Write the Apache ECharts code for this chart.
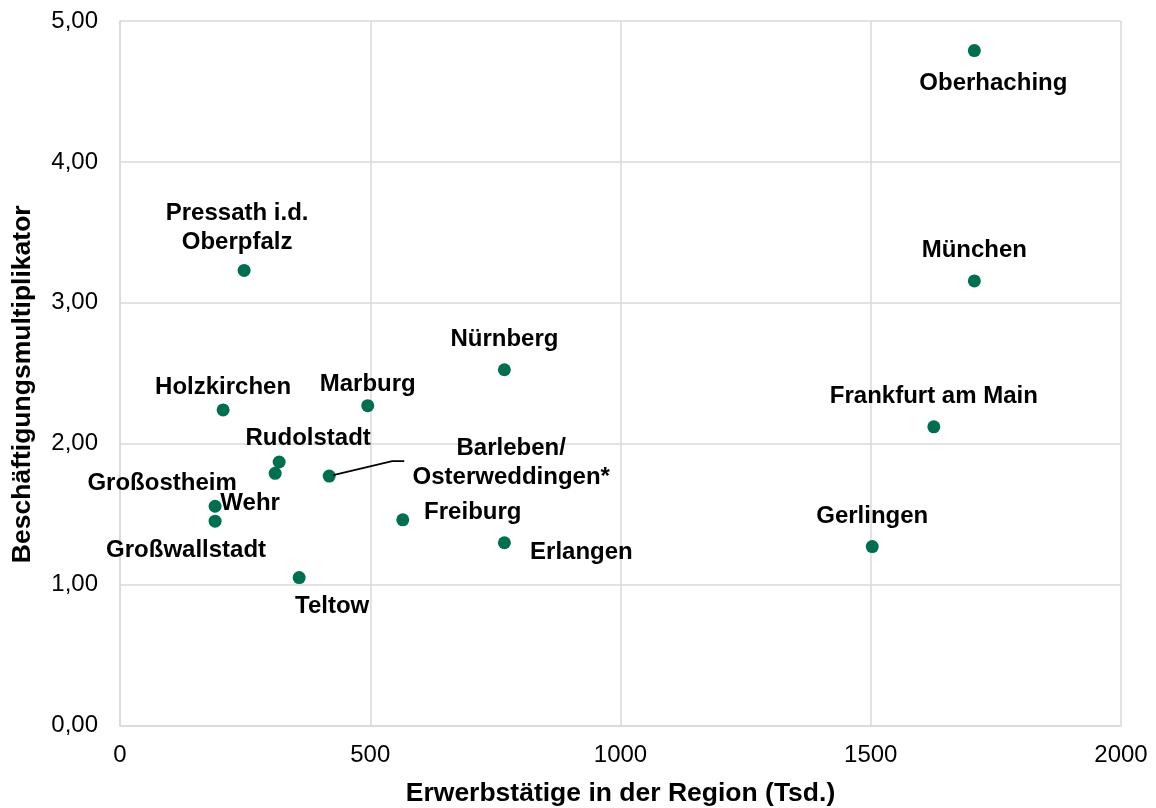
<!DOCTYPE html>
<html><head><meta charset="utf-8">
<script src="https://cdn.jsdelivr.net/npm/echarts@6/dist/echarts.min.js"></script>
<style>html,body{margin:0;padding:0;background:#fff}#c{width:1156px;height:808px}</style>
</head><body><div id="c"></div>
<script>
const regions = ['Oberhaching','München','Frankfurt am Main','Gerlingen','Nürnberg','Erlangen','Freiburg','Barleben/\nOsterweddingen*','Marburg','Rudolstadt','Wehr','Holzkirchen','Pressath i.d.\nOberpfalz','Großostheim','Großwallstadt','Teltow'];
const employed = [1707, 1707, 1626, 1503, 768, 768, 565, 418, 495, 318, 310, 206, 248, 190, 190, 358];
const multiplier = [4.79, 3.155, 2.12, 1.27, 2.525, 1.297, 1.46, 1.77, 2.27, 1.87, 1.79, 2.24, 3.23, 1.556, 1.45, 1.05];
const xTicks = {min: 0, max: 2000, step: 500};
const yTicks = {min: 0, max: 5, step: 1};

// label placement (pixels, relative to point centre)
const labelOffsets = {
  'Oberhaching': [19, 33], 'München': [0, -31], 'Frankfurt am Main': [0, -30], 'Gerlingen': [0, -30],
  'Nürnberg': [0, -30], 'Erlangen': [77, 10], 'Freiburg': [70, -7], 'Barleben/\nOsterweddingen*': [182, -13],
  'Marburg': [0, -21], 'Rudolstadt': [29, -24], 'Wehr': [-25, 30], 'Holzkirchen': [0, -23],
  'Pressath i.d.\nOberpfalz': [-7, -43], 'Großostheim': [-53, -23], 'Großwallstadt': [-29, 29], 'Teltow': [33, 29]
};
const leaderFor = 'Barleben/\nOsterweddingen*';

const data = regions.map((r, i) => ({name: r, value: [employed[i], multiplier[i]]}));

const chart = echarts.init(document.getElementById('c'));
const FONT = '"Liberation Sans", Arial, sans-serif';
chart.setOption({
  animation: false,
  grid: {left: 120, right: 35, top: 21, bottom: 82.5, containLabel: false, outerBoundsMode: 'none'},
  xAxis: {
    type: 'value', min: xTicks.min, max: xTicks.max, interval: xTicks.step,
    name: 'Erwerbstätige in der Region (Tsd.)', nameLocation: 'middle', nameGap: 55,
    nameTextStyle: {fontFamily: FONT, fontSize: 26.5, fontWeight: 'bold', color: '#000'},
    axisLine: {show: true, lineStyle: {color: '#d9d9d9', width: 1.5}},
    axisTick: {show: false},
    axisLabel: {fontFamily: FONT, fontSize: 24, color: '#000', margin: 18, formatter: v => String(v)},
    splitLine: {show: true, lineStyle: {color: '#d9d9d9', width: 1.5}}
  },
  yAxis: {
    type: 'value', min: yTicks.min, max: yTicks.max, interval: yTicks.step,
    name: 'Beschäftigungsmultiplikator', nameLocation: 'middle', nameGap: 84,
    nameTextStyle: {fontFamily: FONT, fontSize: 26.5, fontWeight: 'bold', color: '#000', padding: [0, 22, 0, 0]},
    axisLine: {show: true, lineStyle: {color: '#d9d9d9', width: 1.5}},
    axisTick: {show: false},
    axisLabel: {fontFamily: FONT, fontSize: 24, color: '#000', margin: 22,
      formatter: v => v.toFixed(2).replace('.', ',')},
    splitLine: {show: true, lineStyle: {color: '#d9d9d9', width: 1.5}}
  },
  series: [{
    type: 'scatter',
    symbol: 'circle', symbolSize: 13,
    itemStyle: {color: '#006f4f', opacity: 1},
    data: data,
    label: {
      show: true, position: 'inside', formatter: p => p.name, opacity: 1,
      fontFamily: FONT, fontSize: 24, fontWeight: 'bold', color: '#000',
      align: 'center', verticalAlign: 'middle', lineHeight: 29
    },
    labelLayout: function (p) {
      const off = labelOffsets[regions[p.dataIndex]] || [0, 0];
      return {dx: off[0], dy: off[1]};
    }
  }]
});

// leader line for the Barleben label, anchored at the data point's pixel position
const li = regions.indexOf(leaderFor);
const pt = chart.convertToPixel({seriesIndex: 0}, [employed[li], multiplier[li]]);
chart.setOption({
  graphic: [{
    type: 'polyline', silent: true, z: 10,
    shape: {points: [[pt[0] + 4, pt[1] - 1], [pt[0] + 63, pt[1] - 15], [pt[0] + 75, pt[1] - 15]]},
    style: {stroke: '#000', lineWidth: 1.6, fill: null}
  }]
});
</script></body></html>
